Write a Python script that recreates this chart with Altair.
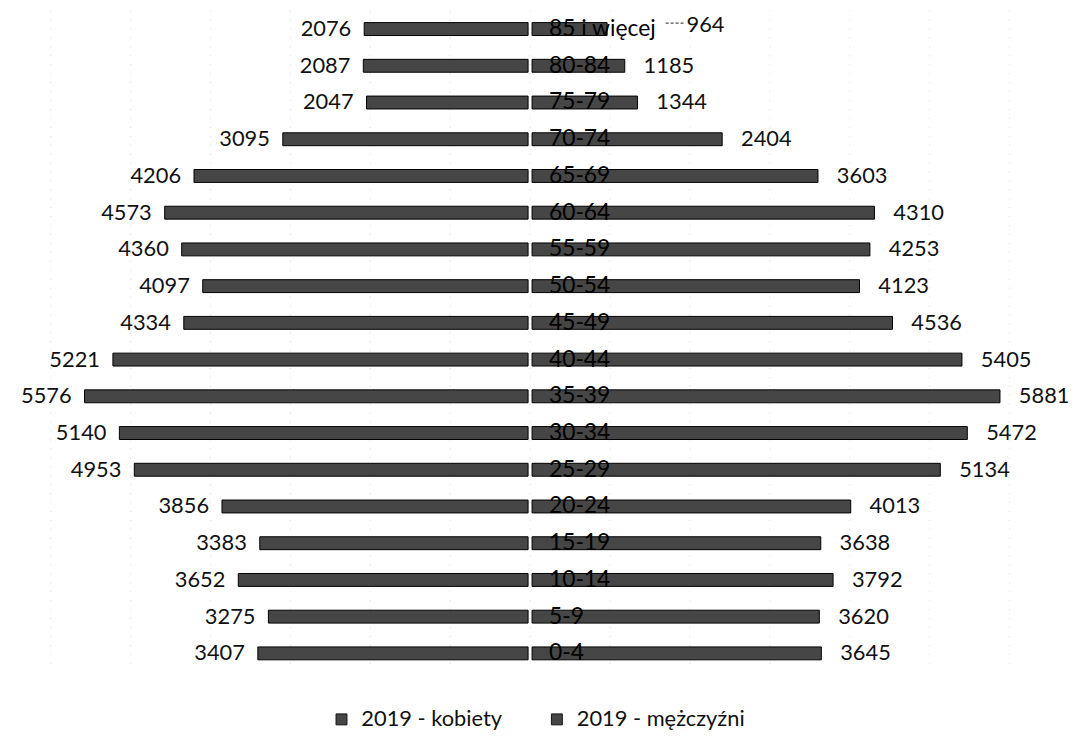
import altair as alt
import pandas as pd

ages = ["0-4", "5-9", "10-14", "15-19", "20-24", "25-29", "30-34", "35-39",
        "40-44", "45-49", "50-54", "55-59", "60-64", "65-69", "70-74",
        "75-79", "80-84", "85 i więcej"]
female = [3407, 3275, 3652, 3383, 3856, 4953, 5140, 5576, 5221, 4334,
          4097, 4360, 4573, 4206, 3095, 2047, 2087, 2076]
male = [3645, 3620, 3792, 3638, 4013, 5134, 5472, 5881, 5405, 4536,
        4123, 4253, 4310, 3603, 2404, 1344, 1185, 964]
series = ["2019 - kobiety", "2019 - mężczyźni"]
grid_ticks = [-6000, -5000, -4000, -3000, -2000, -1000, 0,
              1000, 2000, 3000, 4000, 5000, 6000]

rows = []
for a, f, m in zip(ages, female, male):
    rows.append({"age": a, "sex": series[0], "value": f, "signed": -f, "zero": 0})
    rows.append({"age": a, "sex": series[1], "value": m, "signed": m, "zero": 0})
df = pd.DataFrame(rows)
grid_df = pd.DataFrame({"g": grid_ticks})

FONT = "Lato"
BAR_FILL = "#464646"
TOP_AGE = ages[-1]

xscale = alt.Scale(domain=[-6534, 6708], nice=False, zero=False)
yscale = alt.Scale(domain=ages[::-1])
x_enc = alt.X("signed:Q", scale=xscale, axis=None)
y_enc = alt.Y("age:N", scale=yscale, axis=None)
color_enc = alt.Color(
    "sex:N",
    scale=alt.Scale(domain=series, range=[BAR_FILL, BAR_FILL]),
    legend=alt.Legend(
        title=None, orient="none", legendX=325, legendY=703,
        direction="horizontal", symbolType="square", symbolSize=121,
        symbolStrokeColor="#111", symbolStrokeWidth=1, symbolOpacity=1,
        labelFont=FONT, labelFontSize=22, labelColor="#111",
        labelOffset=9, columnPadding=44, labelLimit=300,
    ),
)

base = alt.Chart(df)

grid = alt.Chart(grid_df).mark_rule(
    color="#d6d6d6", strokeWidth=1, strokeDash=[1, 8]
).encode(x=alt.X("g:Q", scale=xscale, axis=None))

fem = base.transform_filter(alt.datum.sex == series[0])
mal = base.transform_filter(alt.datum.sex == series[1])

fem_bars = fem.mark_bar(size=13, stroke="#000", strokeWidth=1, x2Offset=-2).encode(
    x=x_enc, x2=alt.X2("zero:Q"), y=y_enc, color=color_enc
)
mal_bars = mal.mark_bar(size=13, stroke="#000", strokeWidth=1, x2Offset=2).encode(
    x=x_enc, x2=alt.X2("zero:Q"), y=y_enc, color=color_enc
)

fem_labels = fem.mark_text(
    align="right", baseline="middle", dx=-13, font=FONT, fontSize=22, color="#111"
).encode(x=x_enc, y=y_enc, text="value:Q")

mal_labels = mal.transform_filter(alt.datum.age != TOP_AGE).mark_text(
    align="left", baseline="middle", dx=19, font=FONT, fontSize=22, color="#111"
).encode(x=x_enc, y=y_enc, text="value:Q")

top_mal = mal.transform_filter(alt.datum.age == TOP_AGE)
top_label = top_mal.mark_text(
    align="left", baseline="middle", dx=80, dy=-4, font=FONT, fontSize=22, color="#111"
).encode(x=x_enc, y=y_enc, text="value:Q")
leader = top_mal.mark_rule(
    color="#222", strokeWidth=1, strokeDash=[3, 2], xOffset=59, x2Offset=77, yOffset=-6
).encode(x=x_enc, x2=alt.X2("signed:Q"), y=y_enc)

age_labels = fem.mark_text(
    align="left", baseline="middle", dx=19, font=FONT, fontSize=23, color="#000"
).encode(x=alt.X("zero:Q", scale=xscale, axis=None), y=y_enc, text="age:N")

chart = alt.layer(
    grid, fem_bars, mal_bars, fem_labels, mal_labels, top_label, leader, age_labels
).properties(
    width=1066, height=666, background="white",
    autosize=alt.AutoSizeParams(type="none"),
    padding={"left": 0, "top": 0, "right": 8, "bottom": 60},
).configure_view(stroke=None)

chart.save("out.html", embed_options={"renderer": "svg", "actions": False})
